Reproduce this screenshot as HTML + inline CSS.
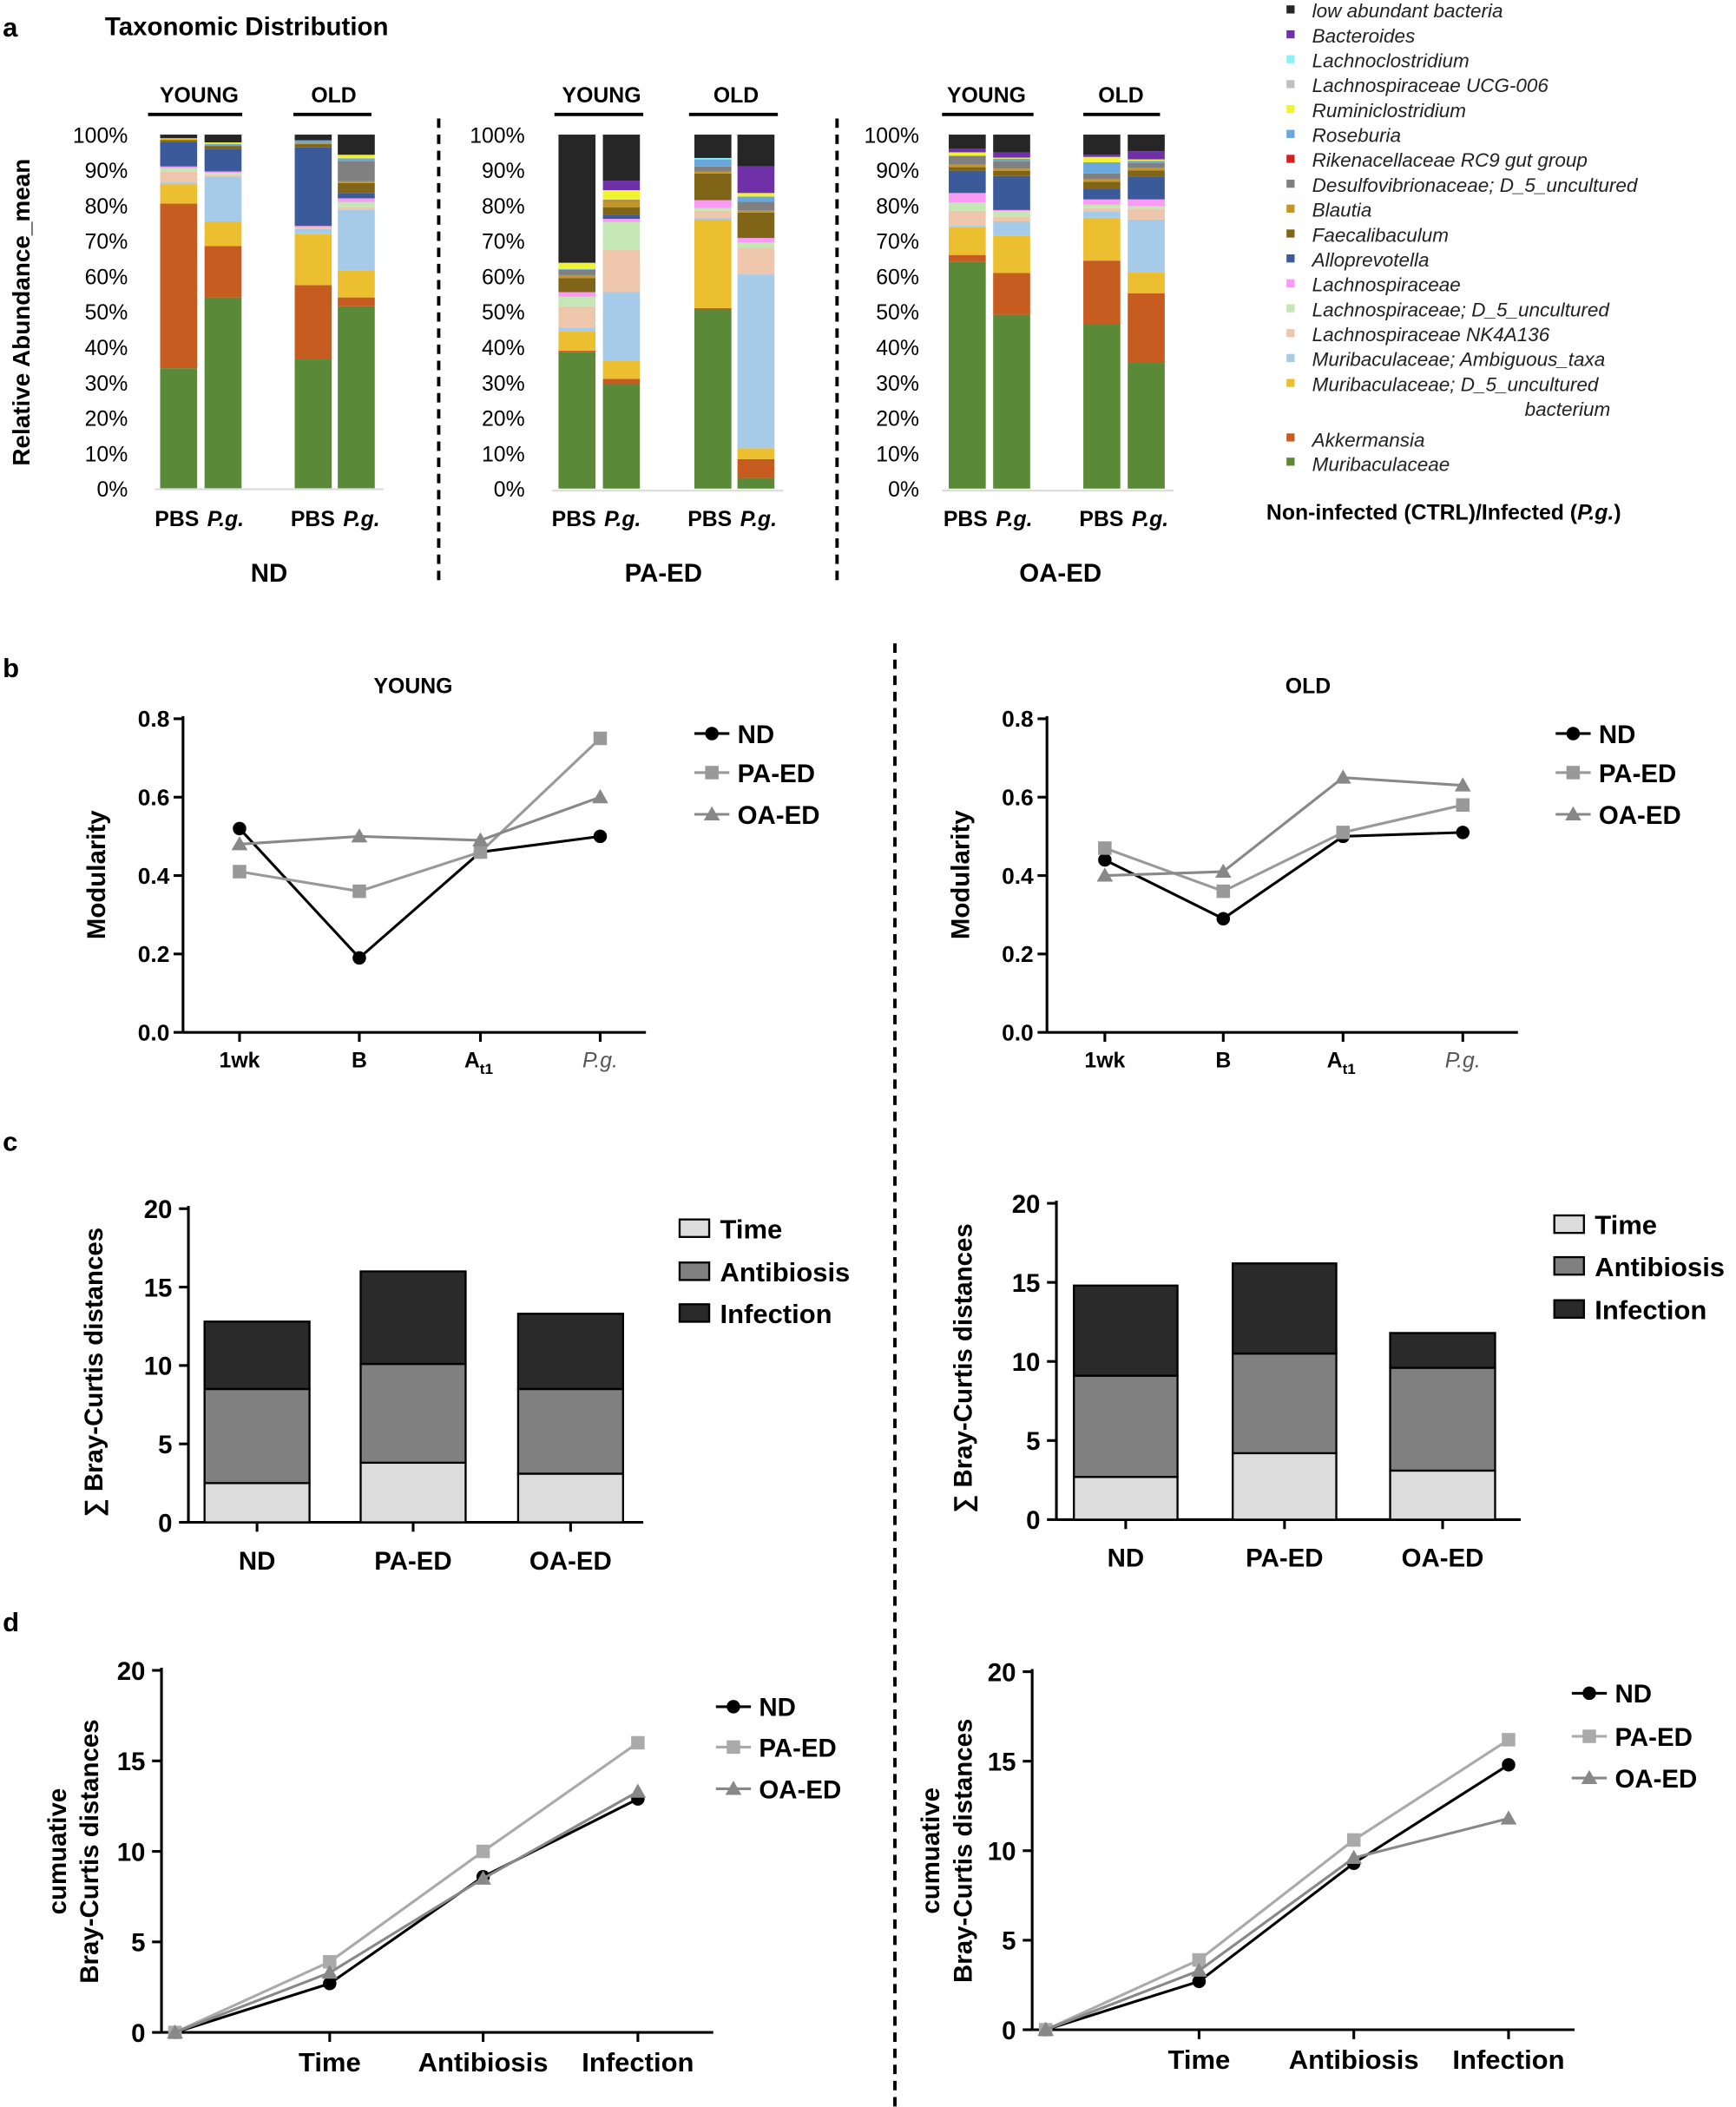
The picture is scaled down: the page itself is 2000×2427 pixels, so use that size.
<!DOCTYPE html>
<html><head><meta charset="utf-8">
<style>
html,body{margin:0;padding:0;background:#fff;}
svg{display:block;}
text{font-family:"Liberation Sans",Arial,sans-serif;}
</style></head>
<body>
<svg id="s" xmlns="http://www.w3.org/2000/svg" width="2000" height="2427" viewBox="0 0 1290 1565.4"></svg>
<script>
const C={g:"#5a8a38",o:"#c65c20",y:"#ecbf30",lb:"#a6cbe8",pe:"#edc6ab",lg:"#c5e6b5",pk:"#f99af5",nv:"#3b5a9a",br:"#806418",gd:"#c4962a",gr:"#808080",sk:"#6aa7dc",by:"#f0f430",cy:"#8ff0f8",pu:"#7030a8",bk:"#262626"};
let o='';
function t(x,y,s,sz,opt={}){o+=`<text x="${x}" y="${y}" font-size="${sz}" ${opt.b?'font-weight="bold"':''} ${opt.i?'font-style="italic"':''} text-anchor="${opt.a||'start'}" ${opt.tr?'transform="'+opt.tr+'"':''} fill="${opt.f||'#000'}">${s}</text>`;}
function l(x1,y1,x2,y2,c='#000',w=1.5,d=''){o+=`<line x1="${x1}" y1="${y1}" x2="${x2}" y2="${y2}" stroke="${c}" stroke-width="${w}" ${d?'stroke-dasharray="'+d+'"':''}/>`;}
function r(x,y,w,h,f,s='none',sw=0){o+=`<rect x="${x}" y="${y}" width="${w}" height="${h}" fill="${f}" stroke="${s}" stroke-width="${sw}"/>`;}
t(2,27,'a',20,{b:1});t(78,26,'Taxonomic Distribution',19,{b:1});
t(22,232,'Relative Abundance_mean',18,{b:1,a:'middle',tr:'rotate(-90 22 232)'});
const y0=363,y100=100,sc=(y0-y100)/100;
function bar(x,w,segs){let prev=0;for(const [c,v] of segs){r(x,y0-v*sc,w,(v-prev)*sc,C[c]);prev=v;}}
const B=[
[119,[['g',34],['o',80.5],['y',86],['lb',86.5],['pe',89.5],['lg',90.5],['pk',91],['nv',98],['br',98.5],['y',99],['bk',100]]],
[152,[['g',54],['o',68.5],['y',75.5],['lb',88],['pe',88.5],['lg',89.2],['pk',89.6],['nv',96],['br',96.8],['sk',97.4],['by',97.8],['bk',100]]],
[219,[['g',36.5],['o',57.5],['y',72],['lb',73.3],['pe',73.8],['pk',74.2],['nv',96.4],['br',97.3],['gd',97.7],['sk',98.4],['bk',100]]],
[251,[['g',51.5],['o',54],['y',61.7],['lb',78.7],['pe',79.5],['lg',81],['pk',82],['nv',83.5],['br',86.3],['gd',86.8],['gr',92.5],['sk',93.3],['by',94.3],['bk',100]]],
[415,[['g',38.5],['o',39],['y',44.5],['lb',45.5],['pe',51.5],['lg',54.2],['pk',55.5],['br',59.5],['gd',60.3],['gr',61.8],['sk',62],['by',63.8],['bk',100]]],
[448,[['g',29.5],['o',31],['y',36],['lb',55.5],['pe',67.5],['lg',75.3],['pk',76.2],['nv',77.3],['br',79.5],['gd',81.3],['pu',81.5],['by',84.3],['pu',87],['bk',100]]],
[516,[['g',50.6],['o',51],['y',76],['lb',76.5],['pe',78.5],['lg',79.3],['pk',81.5],['br',89],['gd',89.5],['gr',91],['sk',93],['cy',93.4],['bk',100]]],
[548,[['g',3],['o',8.3],['y',11.4],['lb',60.5],['pe',68],['lg',69.5],['pk',70.8],['br',78],['gd',78.5],['gr',81],['sk',82.5],['by',83.5],['pu',91],['bk',100]]],
[705,[['g',64],['o',66],['y',73.8],['lb',74.3],['pe',78.5],['lg',80.8],['pk',83.5],['nv',89.8],['br',90.8],['gd',91.5],['gr',94],['by',95],['pu',96],['bk',100]]],
[738,[['g',49.1],['o',60.9],['y',71.4],['lb',75.5],['pe',76.8],['lg',78.4],['pk',78.7],['nv',88.3],['br',89.8],['gd',90.4],['gr',92.4],['sk',93.2],['by',93.5],['pu',95],['bk',100]]],
[805,[['g',46.3],['o',64.4],['y',76.5],['lb',78.3],['pe',79.2],['lg',80.2],['pk',81.7],['nv',84.7],['br',86.7],['gd',87.4],['gr',89],['sk',92.2],['by',93.7],['pu',94.3],['bk',100]]],
[838,[['g',35.5],['o',55.2],['y',61.1],['lb',76],['pe',79.1],['lg',79.8],['pk',81.7],['nv',88.2],['br',89.9],['gd',90.6],['gr',92],['sk',92.6],['by',93],['pu',95.3],['bk',100]]]];
for(const [x,s] of B)bar(x,27.5,s);
l(115,363.5,285,363.5,'#ddd',1.5);l(410,364.5,582,364.5,'#ddd',1.5);l(700,364.5,872,364.5,'#ddd',1.5);
for(const [ax] of [[95],[390],[683]]){for(let i=0;i<=10;i++){t(ax,y0-i*10*sc+6,(i*10)+'%',16,{a:'end'});}}
const H=[[148,'YOUNG',110,180],[248,'OLD',218,276],[447,'YOUNG',412,478],[547,'OLD',512,578],[733,'YOUNG',700,768],[833,'OLD',805,862]];
for(const [cx,s,a,b] of H){t(cx,76,s,16,{b:1,a:'middle'});l(a,85,b,85,'#000',2.5);}
for(const cx of [115,216,410,511,701,802]){t(cx,391,'PBS',16,{b:1});t(cx+39,391,'P.g.',16,{b:1,i:1});}
t(200,432,'ND',19,{b:1,a:'middle'});t(493,432,'PA-ED',19,{b:1,a:'middle'});t(788,432,'OA-ED',19,{b:1,a:'middle'});
l(326,88,326,434,'#000',2.5,'7,5');l(622,88,622,434,'#000',2.5,'7,5');
const LG=[['bk','low abundant bacteria'],['pu','Bacteroides'],['cy','Lachnoclostridium'],['#c0c0c0','Lachnospiraceae UCG-006'],['by','Ruminiclostridium'],['sk','Roseburia'],['#d42020','Rikenacellaceae RC9 gut group'],['gr','Desulfovibrionaceae; D_5_uncultured'],['gd','Blautia'],['br','Faecalibaculum'],['nv','Alloprevotella'],['pk','Lachnospiraceae'],['lg','Lachnospiraceae; D_5_uncultured'],['pe','Lachnospiraceae NK4A136'],['lb','Muribaculaceae; Ambiguous_taxa'],['y','Muribaculaceae; D_5_uncultured']];
LG.forEach(([c,s],i)=>{const y=8+i*18.5;r(956,y-4,6,6,C[c]||c);t(975,y+5,s,14.5,{i:1,f:'#222'});});
t(1133,309,'bacterium',14.5,{i:1,f:'#222'});
r(956,322,6,6,C.o);t(975,332,'Akkermansia',14.5,{i:1,f:'#222'});
r(956,340,6,6,C.g);t(975,350,'Muribaculaceae',14.5,{i:1,f:'#222'});
o+=`<text x="941" y="386" font-size="16" font-weight="bold">Non-infected (CTRL)/Infected (<tspan font-style="italic">P.g.</tspan>)</text>`;
l(665,478,665,1566,'#000',2.5,'7,5');
t(2,503,'b',20,{b:1});
function marker(m,x,y,c){if(m=='c')o+=`<circle cx="${x}" cy="${y}" r="5" fill="${c}"/>`;else if(m=='s')r(x-5,y-5,10,10,c);else o+=`<polygon points="${x},${y-6} ${x-6},${y+4.5} ${x+6},${y+4.5}" fill="${c}"/>`;}
function linechart(o2){const {ax,x1,yb,yt,ymax,step,fmt,pts,xs,leg,legy,labx}=o2;
 l(ax,yt-2,ax,yb,'#000',2);l(ax,yb,x1,yb,'#000',2);
 const s=(yb-yt)/ymax;
 for(let v=0;v<=ymax+1e-9;v+=step){const y=yb-v*s;l(ax-7,y,ax,y,'#000',2);t(ax-10,y+6,fmt(v),17,{b:1,a:'end'});}
 const mk=['c','s','t'],col=['#000','#999','#888'];
 pts.forEach((p,k)=>{let d='';p.forEach((v,i)=>{d+=(i?'L':'M')+xs[i]+','+(yb-v*s);});o+=`<path d="${d}" fill="none" stroke="${col[k]}" stroke-width="2"/>`;
  p.forEach((v,i)=>marker(mk[k],xs[i],yb-v*s,col[k]));});
 leg.forEach((s2,k)=>{const y=legy[k];l(labx,y,labx+26,y,col[k],2);marker(mk[k],labx+13,y,col[k]);t(labx+32,y+7,s2,19,{b:1});});
}
const f1=v=>v.toFixed(1);
linechart({ax:136,x1:480,yb:767,yt:534,ymax:0.8,step:0.2,fmt:f1,xs:[178,267,357,446],pts:[[.52,.19,.46,.50],[.41,.36,.46,.75],[.48,.50,.49,.60]],leg:['ND','PA-ED','OA-ED'],legy:[545,574,605],labx:516});
linechart({ax:778,x1:1128,yb:767,yt:534,ymax:0.8,step:0.2,fmt:f1,xs:[821,909,998,1087],pts:[[.44,.29,.50,.51],[.47,.36,.51,.58],[.40,.41,.65,.63]],leg:['ND','PA-ED','OA-ED'],legy:[545,574,605],labx:1156});
for(const [xs] of [[[178,267,357,446]],[[821,909,998,1087]]]){
 xs.forEach(x=>l(x,767,x,774,'#000',2));
 t(xs[0],793,'1wk',16,{b:1,a:'middle'});t(xs[1],793,'B',16,{b:1,a:'middle'});
 o+=`<text x="${xs[2]-12}" y="793" font-size="16" font-weight="bold">A<tspan font-size="11" dy="5">t1</tspan></text>`;
 t(xs[3],793,'P.g.',16,{i:1,a:'middle',f:'#555'});}
t(307,515,'YOUNG',16,{b:1,a:'middle'});t(972,515,'OLD',16,{b:1,a:'middle'});
t(78,650,'Modularity',19,{b:1,a:'middle',tr:'rotate(-90 78 650)'});
t(720,650,'Modularity',19,{b:1,a:'middle',tr:'rotate(-90 720 650)'});
t(2,855,'c',20,{b:1});
function stack(o2){const {ax,x1,yb,yt,bars,labels,legx,legy,ylx}=o2;const s=(yb-yt)/20;
 l(ax,yt-2,ax,yb,'#000',2);l(ax,yb,x1,yb,'#000',2);
 for(let v=0;v<=20;v+=5){const y=yb-v*s;l(ax-7,y,ax,y,'#000',2);t(ax-12,y+7,v,19,{b:1,a:'end'});}
 const cols=['#dcdcdc','#808080','#2a2a2a'];
 bars.forEach(([x,w,vals],i)=>{let p=0;vals.forEach((v,k)=>{r(x,yb-v*s,w,(v-p)*s,cols[k],'#000',1.5);if(k<2)l(x,yb-v*s-2.5,x+w,yb-v*s-2.5,'#fff',1.5);p=v;});
  l(x+w/2,yb,x+w/2,yb+7,'#000',2);t(x+w/2,yb+35,labels[i],19,{b:1,a:'middle'});});
 ['Time','Antibiosis','Infection'].forEach((n,k)=>{r(legx,legy[k]-6,22,13,cols[k],'#000',1.5);t(legx+30,legy[k]+8,n,20,{b:1});});
 t(ylx,(yb+yt)/2+5,'∑ Bray-Curtis distances',19,{b:1,a:'middle',tr:`rotate(-90 ${ylx} ${(yb+yt)/2+5})`});}
stack({ax:140,x1:478,yb:1131,yt:898,bars:[[152,78,[2.5,8.5,12.8]],[268,78,[3.8,10.1,16]],[385,78,[3.1,8.5,13.3]]],labels:['ND','PA-ED','OA-ED'],legx:505,legy:[912,944,975],ylx:76});
stack({ax:785,x1:1130,yb:1129,yt:894,bars:[[798,77,[2.7,9.1,14.8]],[916,77,[4.2,10.5,16.2]],[1033,78,[3.1,9.6,11.8]]],labels:['ND','PA-ED','OA-ED'],legx:1155,legy:[909,940,972],ylx:722});
t(2,1212,'d',20,{b:1});
function cum(o2){const {ax,x1,yb,yt,xs,pts,labx,legy,ylx}=o2;const s=(yb-yt)/20;
 l(ax,yt-2,ax,yb,'#000',2);l(ax,yb,x1,yb,'#000',2);
 for(let v=0;v<=20;v+=5){const y=yb-v*s;l(ax-7,y,ax,y,'#000',2);t(ax-12,y+7,v,19,{b:1,a:'end'});}
 const mk=['c','s','t'],col=['#000','#aaa','#888'];
 pts.forEach((p,k)=>{let d='';p.forEach((v,i)=>{d+=(i?'L':'M')+xs[i]+','+(yb-v*s);});o+=`<path d="${d}" fill="none" stroke="${col[k]}" stroke-width="2"/>`;p.forEach((v,i)=>marker(mk[k],xs[i],yb-v*s,col[k]));});
 ['Time','Antibiosis','Infection'].forEach((n,i)=>{l(xs[i+1],yb,xs[i+1],yb+7,'#000',2);t(xs[i+1],yb+29,n,20,{b:1,a:'middle'});});
 ['ND','PA-ED','OA-ED'].forEach((n,k)=>{const y=legy[k];l(labx,y,labx+26,y,col[k],2);marker(mk[k],labx+13,y,col[k]);t(labx+32,y+7,n,19,{b:1});});
 const cy=(yb+yt)/2;t(ylx-24,cy,'cumuative',19,{b:1,a:'middle',tr:`rotate(-90 ${ylx-24} ${cy})`});t(ylx,cy,'Bray-Curtis distances',19,{b:1,a:'middle',tr:`rotate(-90 ${ylx} ${cy})`});}
cum({ax:120,x1:530,yb:1510,yt:1241,xs:[130,245,359,474],pts:[[0,2.7,8.6,12.9],[0,3.9,10,16],[0,3.3,8.5,13.3]],labx:532,legy:[1268,1298,1329],ylx:73});
cum({ax:767,x1:1170,yb:1508,yt:1242,xs:[777,891,1006,1121],pts:[[0,2.7,9.3,14.8],[0,3.9,10.6,16.2],[0,3.3,9.6,11.8]],labx:1168,legy:[1258,1290,1321],ylx:722});
document.getElementById('s').innerHTML=o;
</script>
</body></html>
